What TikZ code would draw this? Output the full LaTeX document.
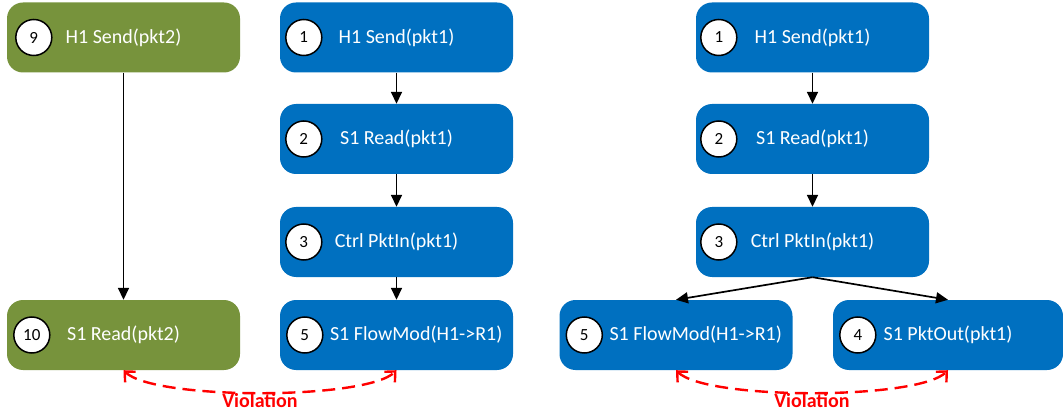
\documentclass[tikz,border=0pt]{standalone}
\usepackage{fontspec}
\setmainfont{Carlito}
\usetikzlibrary{arrows.meta}
\definecolor{stepblue}{HTML}{0070C0}
\definecolor{stepgreen}{HTML}{77933C}
\begin{document}
\begin{tikzpicture}[x=1pt,y=-1pt,
  box/.style={rounded corners=16pt, minimum width=233pt, minimum height=70pt,
    inner sep=0pt, text=white, font=\fontsize{20}{24}\selectfont},
  bluebox/.style={box, fill=stepblue},
  greenbox/.style={box, fill=stepgreen},
  boxtext/.style={text=white, inner sep=0pt, font=\fontsize{20}{24}\selectfont},
  num/.style={circle, draw=black, line width=1.5pt, fill=white, minimum size=36pt,
    inner sep=0pt, font=\fontsize{17}{20}\selectfont},
  flow/.style={-{Triangle[length=12pt,width=11pt]}, line width=1.7pt},
  viol/.style={{Straight Barb[length=8pt,width=15pt]}-{Straight Barb[length=8pt,width=15pt]},
    red, line width=2.4pt, dash pattern=on 13pt off 7pt},
  violtxt/.style={text=red, font=\bfseries\fontsize{20}{24}\selectfont}]

\useasboundingbox (0,0) rectangle (1063,414);

% second packet (green)
\node[greenbox] (g9)  at (123.5,37.5) {H1 Send(pkt2)};
\node[greenbox] (g10) at (123.5,335)  {S1 Read(pkt2)};
\node[num] (n9)  at ([xshift=27pt]g9.west)  {9};
\node[num] (n10) at ([xshift=25pt]g10.west) {10};

% first trace
\node[bluebox] (a1) at (396.5,37.5) {H1 Send(pkt1)};
\node[bluebox] (a2) at (396.5,139)  {S1 Read(pkt1)};
\node[bluebox] (a3) at (396.5,242)  {Ctrl PktIn(pkt1)};
\node[bluebox] (a5) at (396.5,335)  {};
\node[boxtext, anchor=west] (a5t) at ([xshift=50pt]a5.west) {S1 FlowMod(H1->R1)};
\node[num] (na1) at ([xshift=24pt]a1.west) {1};
\node[num] (na2) at ([xshift=24pt]a2.west) {2};
\node[num] (na3) at ([xshift=24pt]a3.west) {3};
\node[num] (na5) at ([xshift=25pt]a5.west) {5};

% second trace
\node[bluebox] (b1) at (812.5,37.5) {H1 Send(pkt1)};
\node[bluebox] (b2) at (812.5,139)  {S1 Read(pkt1)};
\node[bluebox] (b3) at (812.5,242)  {Ctrl PktIn(pkt1)};
\node[bluebox] (b5) at (676,335)    {};
\node[boxtext, anchor=west] (b5t) at ([xshift=50pt]b5.west) {S1 FlowMod(H1->R1)};
\node[bluebox, minimum width=230pt] (b4) at (948,335) {S1 PktOut(pkt1)};
\node[num] (nb1) at ([xshift=23pt]b1.west) {1};
\node[num] (nb2) at ([xshift=23pt]b2.west) {2};
\node[num] (nb3) at ([xshift=23pt]b3.west) {3};
\node[num] (nb5) at ([xshift=25pt]b5.west) {5};
\node[num] (nb4) at ([xshift=25pt]b4.west) {4};

% ordering edges
\draw[flow] (g9) -- (g10);
\draw[flow] (a1) -- (a2);
\draw[flow] (a2) -- (a3);
\draw[flow] (a3) -- (a5);
\draw[flow] (b1) -- (b2);
\draw[flow] (b2) -- (b3);
\draw[flow] (b3.south) -- (b5.north);
\draw[flow] (b3.south) -- (b4.north);

% violations
\draw[viol] (g10.south) .. controls +(30,30) and +(-30,30) .. (a5.south);
\draw[viol] (b5.south) .. controls +(30,30) and +(-30,30) .. (b4.south);
\node[violtxt] (v1) at (260,401) {Violation};
\node[violtxt] (v2) at (812,401) {Violation};
\end{tikzpicture}
\end{document}
